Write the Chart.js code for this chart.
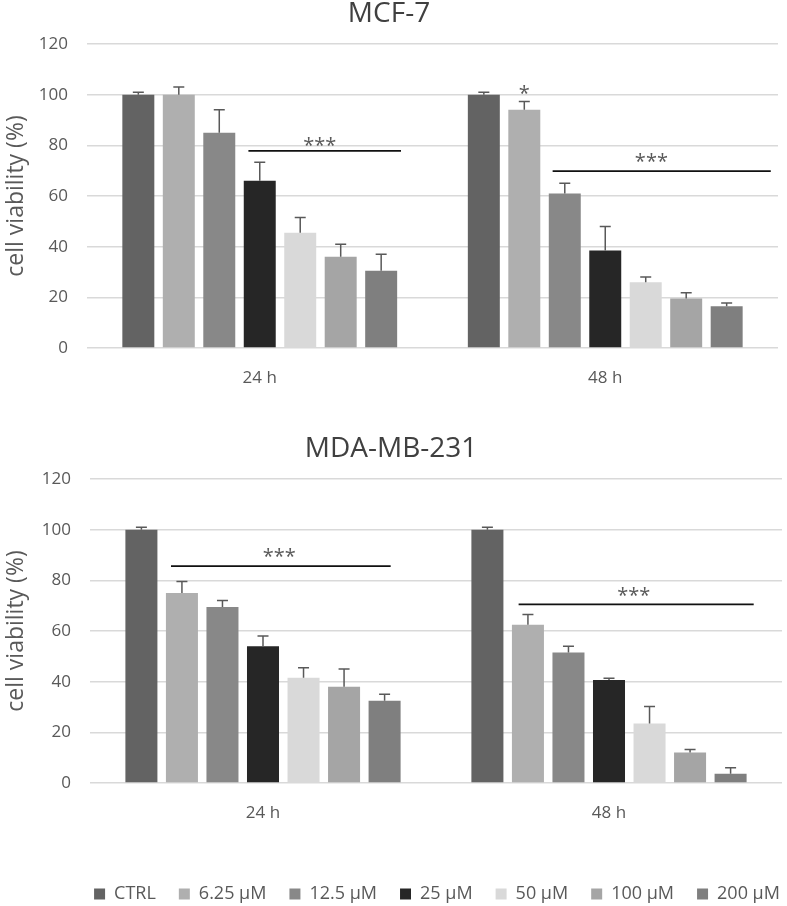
<!DOCTYPE html>
<html>
<head>
<meta charset="utf-8">
<script src="https://cdn.jsdelivr.net/npm/chart.js@4"></script>
<style>
  html, body { margin: 0; padding: 0; background: #fff; overflow: hidden; }
  #top { position: absolute; left: 0; top: 0; width: 787px; height: 400px; }
  #bottom { position: absolute; left: 0; top: 435px; width: 787px; height: 478px; }
</style>
</head>
<body>
<div id="top"><canvas id="graficoMCF"></canvas></div>
<div id="bottom"><canvas id="graficoMDA"></canvas></div>
<script>
const categorias = ["24 h", "48 h"];
const series = ["CTRL", "6.25 µM", "12.5 µM", "25 µM", "50 µM", "100 µM", "200 µM"];
const colores = ["#636363", "#afafaf", "#888888", "#262626", "#d9d9d9", "#a5a5a5", "#7f7f7f"];

// MCF-7: media y error por concentración
const mcf24 = [100, 100, 85, 66, 45.5, 36, 30.5];
const mcf24err = [1, 3, 9, 7.3, 6, 5, 6.5];
const mcf48 = [100, 94, 61, 38.5, 26, 19.5, 16.5];
const mcf48err = [1, 3.3, 4, 9.5, 2, 2.3, 1.3];

// MDA-MB-231
const mda24 = [100, 75, 69.5, 54, 41.5, 38, 32.5];
const mda24err = [1, 4.5, 2.5, 4, 4, 7, 2.5];
const mda48 = [100, 62.5, 51.5, 40.7, 23.5, 12, 3.7];
const mda48err = [1, 4, 2.5, 0.6, 6.7, 1.2, 2.3];

// significancia: [grupo, desde barra, hasta barra, nivel]
const mcfLineas = [[0, 2.72, 6.49, 77.8], [1, 1.70, 7.09, 69.8]];
const mcfEstrellas = [[0, 4.48, 81.7, "***"], [1, 4.14, 75.2, "***"], [1, 1, 102, "*"]];
const mdaLineas = [[0, 0.73, 6.15, 85.6], [1, 0.77, 6.57, 70.5]];
const mdaEstrellas = [[0, 3.4, 91, "***"], [1, 3.61, 75.5, "***"]];

Chart.defaults.font.family = "'Open Sans', sans-serif";
Chart.defaults.color = "#595959";

const anotaciones = {
    id: "anotaciones",
    afterLayout(chart, args, opts) {
        // la leyenda del original está algo desplazada a la derecha
        if (chart.legend && opts.desplazarLeyenda) {
            chart.legend.left += opts.desplazarLeyenda;
            chart.legend.right += opts.desplazarLeyenda;
        }
    },
    afterDatasetsDraw(chart, args, opts) {
        const ctx = chart.ctx;
        const y = chart.scales.y;
        ctx.save();
        ctx.strokeStyle = "#595959";
        ctx.lineWidth = 1.5;
        chart.data.datasets.forEach((ds, i) => {
            chart.getDatasetMeta(i).data.forEach((bar, j) => {
                let yTop = y.getPixelForValue(ds.data[j] + ds.errores[j]);
                ctx.beginPath();
                ctx.moveTo(bar.x, bar.y);
                ctx.lineTo(bar.x, yTop);
                ctx.moveTo(bar.x - 5.5, yTop);
                ctx.lineTo(bar.x + 5.5, yTop);
                ctx.stroke();
            });
        });

        const m0 = chart.getDatasetMeta(0).data;
        const m1 = chart.getDatasetMeta(1).data;
        const posX = (g, s) => m0[g].x + s * (m1[g].x - m0[g].x);

        ctx.strokeStyle = "#111";
        ctx.lineWidth = 1.6;
        opts.lineas.forEach(([g, a, b, v]) => {
            let py = y.getPixelForValue(v);
            ctx.beginPath();
            ctx.moveTo(posX(g, a), py);
            ctx.lineTo(posX(g, b), py);
            ctx.stroke();
        });

        ctx.fillStyle = "#595959";
        ctx.font = "20px 'Open Sans', sans-serif";
        ctx.textAlign = "center";
        ctx.textBaseline = "alphabetic";
        opts.estrellas.forEach(([g, s, v, txt]) => {
            let m = ctx.measureText(txt);
            let cy = y.getPixelForValue(v) + (m.actualBoundingBoxAscent - m.actualBoundingBoxDescent) / 2;
            ctx.fillText(txt, posX(g, s), cy);
        });
        ctx.restore();
    }
};

function crearGrafico(id, titulo, d24, e24, d48, e48, lineas, estrellas, conLeyenda, izq, der, altoX) {
    const datasets = series.map((s, i) => ({
        label: s,
        data: [d24[i], d48[i]],
        errores: [e24[i], e48[i]],
        backgroundColor: colores[i],
        categoryPercentage: 0.82,
        barPercentage: 0.79
    }));

    return new Chart(document.getElementById(id), {
        type: "bar",
        data: { labels: categorias, datasets },
        plugins: [anotaciones],
        options: {
            responsive: true,
            maintainAspectRatio: false,
            animation: false,
            layout: { padding: { top: 0, right: der, left: 0, bottom: 0 } },
            plugins: {
                tooltip: { enabled: false },
                title: {
                    display: true,
                    text: titulo,
                    color: "#404040",
                    font: { size: 28, weight: "normal", lineHeight: 1 },
                    padding: { top: 0, bottom: 16 }
                },
                legend: {
                    display: conLeyenda,
                    position: "bottom",
                    labels: {
                        boxWidth: 11,
                        boxHeight: 11,
                        padding: 23,
                        color: "#595959",
                        font: { size: 18 }
                    }
                },
                anotaciones: { lineas, estrellas, desplazarLeyenda: conLeyenda ? 46 : 0 }
            },
            scales: {
                x: {
                    grid: { display: false, drawTicks: false },
                    border: { display: false },
                    ticks: { padding: 20, font: { size: 17 }, color: "#595959" },
                    afterFit(scale) { scale.height = altoX; }
                },
                y: {
                    min: 0,
                    max: 120,
                    ticks: { stepSize: 20, padding: 19, font: { size: 17 }, color: "#595959" },
                    grid: { color: "#d9d9d9", lineWidth: 1.5, drawTicks: false },
                    border: { display: false },
                    title: {
                        display: true,
                        text: "cell viability (%)",
                        color: "#595959",
                        font: { size: 23 },
                        padding: { top: 3, bottom: 0 }
                    },
                    afterFit(scale) { scale.width = izq; }
                }
            }
        }
    });
}

crearGrafico("graficoMCF", "MCF-7", mcf24, mcf24err, mcf48, mcf48err, mcfLineas, mcfEstrellas, false, 87, 9, 52);
crearGrafico("graficoMDA", "MDA-MB-231", mda24, mda24err, mda48, mda48err, mdaLineas, mdaEstrellas, true, 90, 5, 79);
</script>
</body>
</html>
